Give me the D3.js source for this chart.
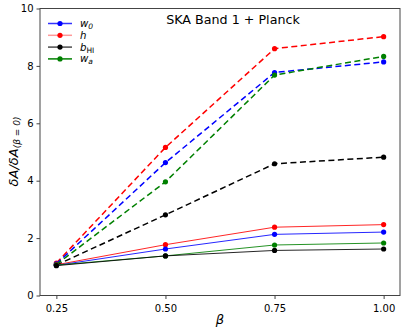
<!DOCTYPE html>
<html>
<head>
<meta charset="utf-8">
<script src="https://cdn.jsdelivr.net/npm/d3@7"></script>
<style>
  body { margin: 0; background: #fff; }
  text { font-family: "DejaVu Sans", sans-serif; }
</style>
</head>
<body>
<div id="chart"></div>
<script>
// beta values on the x axis
var betas = [0.25, 0.50, 0.75, 1.00];
var xTicks = [0.25, 0.50, 0.75, 1.00];
var yTicks = [0, 2, 4, 6, 8, 10];

// dashed series
var w0Dashed = [1.10, 4.63, 7.77, 8.14];
var hDashed = [1.13, 5.16, 8.60, 9.02];
var bDashed = [1.06, 2.81, 4.59, 4.82];
var waDashed = [1.08, 3.96, 7.68, 8.33];

// solid series
var w0Solid = [1.05, 1.62, 2.13, 2.21];
var hSolid = [1.07, 1.77, 2.38, 2.47];
var bSolid = [1.04, 1.38, 1.57, 1.62];
var waSolid = [1.06, 1.38, 1.76, 1.83];

var width = 407, height = 331;
var margin = { top: 8, right: 7, bottom: 36, left: 40 };

var svg = d3.select("#chart").append("svg")
  .attr("width", width)
  .attr("height", height);

var x = d3.scaleLinear().domain([0.2125, 1.0375]).range([margin.left, width - margin.right]);
var y = d3.scaleLinear().domain([0, 10]).range([height - margin.bottom + 0.5, margin.top + 0.5]);

var series = [
  { vals: hDashed, color: "red", dash: true },
  { vals: w0Dashed, color: "blue", dash: true },
  { vals: waDashed, color: "green", dash: true },
  { vals: bDashed, color: "black", dash: true },
  { vals: hSolid, color: "red", dash: false },
  { vals: w0Solid, color: "blue", dash: false },
  { vals: waSolid, color: "green", dash: false },
  { vals: bSolid, color: "black", dash: false }
];

var line = d3.line()
  .x(function(d, i) { return x(betas[i]); })
  .y(function(d) { return y(d); });

var g = svg.append("g");
series.forEach(function(s) {
  g.append("path")
    .attr("d", line(s.vals))
    .attr("fill", "none")
    .attr("stroke", s.color)
    .attr("stroke-width", s.dash ? 1.5 : 1)
    .attr("stroke-opacity", s.dash ? 1 : 0.85)
    .attr("stroke-dasharray", s.dash ? "6,3.5" : null);
  g.selectAll(null)
    .data(s.vals)
    .enter().append("circle")
    .attr("cx", function(d, i) { return x(betas[i]); })
    .attr("cy", function(d) { return y(d); })
    .attr("r", 2.6)
    .attr("fill", s.color);
});

// frame
svg.append("rect")
  .attr("x", margin.left)
  .attr("y", margin.top + 0.5)
  .attr("width", width - margin.left - margin.right)
  .attr("height", height - margin.top - margin.bottom)
  .attr("fill", "none")
  .attr("stroke", "#444")
  .attr("stroke-width", 1);

var xAxis = svg.append("g")
  .attr("transform", "translate(0," + (height - margin.bottom + 0.5) + ")")
  .call(d3.axisBottom(x).tickValues(xTicks).tickFormat(d3.format(".2f")).tickSizeOuter(0).tickSize(3.5));
var yAxis = svg.append("g")
  .attr("transform", "translate(" + margin.left + ",0)")
  .call(d3.axisLeft(y).tickValues(yTicks).tickFormat(d3.format("d")).tickSizeOuter(0).tickSize(3.5));
[xAxis, yAxis].forEach(function(a) {
  a.select(".domain").remove();
  a.selectAll("line").attr("stroke", "#444");
  a.selectAll("text").attr("font-size", 10).attr("fill", "#000")
    .style("font-family", "DejaVu Sans");
});
xAxis.selectAll("text").attr("dy", "0.95em");

// x label
svg.append("text")
  .attr("x", (x(0.2125) + x(1.0375)) / 2)
  .attr("y", 324)
  .attr("text-anchor", "middle")
  .attr("font-size", 13)
  .attr("font-style", "italic")
  .text("β");

// y label
var yl = svg.append("text")
  .attr("transform", "translate(18," + ((margin.top + height - margin.bottom) / 2) + ") rotate(-90)")
  .attr("text-anchor", "middle")
  .attr("font-size", 13)
  .attr("font-style", "italic");
yl.append("tspan").text("δA/δA");
yl.append("tspan").attr("font-size", 9).attr("baseline-shift", "-25%").text("(β = 0)");

// title
svg.append("text")
  .attr("x", 233)
  .attr("y", 24)
  .attr("text-anchor", "middle")
  .attr("font-size", 12.7)
  .text("SKA Band 1 + Planck");

// legend
var legendItems = [
  { name: "w", sub: "0", color: "blue", op: 0.8 },
  { name: "h", sub: "", color: "red", op: 0.4 },
  { name: "b", sub: "HI", color: "black", op: 0.7 },
  { name: "w", sub: "a", color: "green", op: 1 }
];
var leg = svg.append("g");
legendItems.forEach(function(d, i) {
  var yy = 23.5 + i * 11.8;
  leg.append("line")
    .attr("x1", 48).attr("x2", 72).attr("y1", yy).attr("y2", yy)
    .attr("stroke", d.color).attr("stroke-opacity", d.op).attr("stroke-width", 1.5);
  leg.append("circle").attr("cx", 60).attr("cy", yy).attr("r", 2.6).attr("fill", d.color);
  var t = leg.append("text").attr("x", 80).attr("y", yy + 3.5).attr("font-size", 10.2);
  t.append("tspan").attr("font-style", "italic").text(d.name);
  if (d.sub) {
    t.append("tspan").attr("font-size", 7.5).attr("baseline-shift", "-25%")
      .attr("font-style", d.sub === "HI" ? "normal" : "italic").text(d.sub);
  }
});
</script>
</body>
</html>
